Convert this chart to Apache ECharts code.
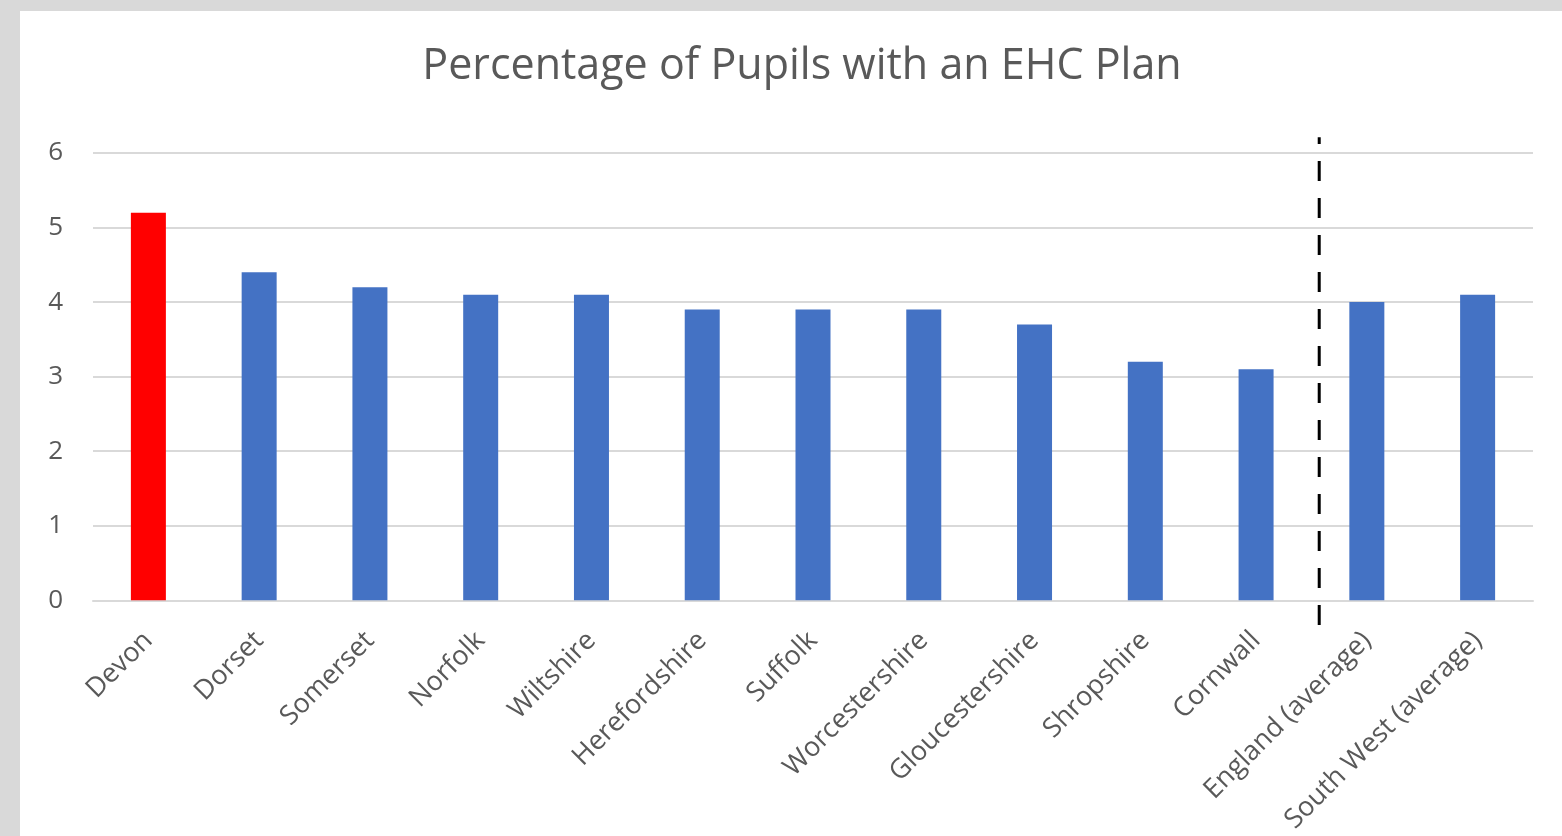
<!DOCTYPE html>
<html>
<head>
<meta charset="utf-8">
<script src="https://cdn.jsdelivr.net/npm/echarts@6/dist/echarts.min.js"></script>
<style>
  html, body { margin: 0; padding: 0; background: #d9d9d9; width: 1562px; height: 836px; overflow: hidden; }
  #chart { position: absolute; left: 20px; top: 11px; width: 1542px; height: 825px; background: #ffffff; }
</style>
</head>
<body>
<div id="chart"></div>
<script>
const categories = ['Devon', 'Dorset', 'Somerset', 'Norfolk', 'Wiltshire', 'Herefordshire', 'Suffolk', 'Worcestershire', 'Gloucestershire', 'Shropshire', 'Cornwall', 'England (average)', 'South West (average)'];
const values = [5.2, 4.4, 4.2, 4.1, 4.1, 3.9, 3.9, 3.9, 3.7, 3.2, 3.1, 4.0, 4.1];
const highlighted = ['Devon'];
const yTicks = [0, 1, 2, 3, 4, 5, 6];
// dashed separator between local authorities and averages (category-units position, value extent)
const separatorX = 11.07;
const separatorY = [-0.33, 6.21];

const FONT = '"Open Sans", "Noto Sans", sans-serif';
const TXT = '#595959';

const chart = echarts.init(document.getElementById('chart'), null, { renderer: 'canvas' });
chart.setOption({
  animation: false,
  backgroundColor: '#ffffff',
  title: {
    text: 'Percentage of Pupils with an EHC Plan',
    left: 777,
    textAlign: 'center',
    top: 29,
    textStyle: { fontFamily: FONT, fontSize: 43, fontWeight: 'normal', color: TXT }
  },
  grid: { left: 73, right: 29, top: 142, bottom: 233, containLabel: false },
  xAxis: [{
    type: 'category',
    data: categories,
    axisLine: { show: true, lineStyle: { color: '#d9d9d9', width: 2 } },
    axisTick: { show: false },
    axisLabel: { rotate: 45, interval: 0, margin: 36, color: TXT, fontFamily: FONT, fontSize: 27 }
  }, {
    type: 'value',
    min: 0, max: categories.length,
    show: false
  }],
  yAxis: {
    type: 'value',
    min: yTicks[0], max: yTicks[yTicks.length - 1], interval: 1,
    axisLine: { show: false },
    axisTick: { show: false },
    splitLine: { lineStyle: { color: '#d9d9d9', width: 2 } },
    axisLabel: { margin: 30, color: TXT, fontFamily: FONT, fontSize: 26 }
  },
  series: [{
    type: 'bar',
    xAxisIndex: 0,
    barWidth: 35,
    data: values.map((v, i) => ({
      value: v,
      itemStyle: { color: highlighted.includes(categories[i]) ? '#ff0000' : '#4472c4' }
    }))
  }, {
    type: 'line',
    xAxisIndex: 1,
    clip: false,
    symbol: 'none',
    silent: true,
    lineStyle: { color: '#000000', width: 3, type: [20, 17] },
    data: [[separatorX, separatorY[0]], [separatorX, separatorY[1]]]
  }]
});
</script>
</body>
</html>
